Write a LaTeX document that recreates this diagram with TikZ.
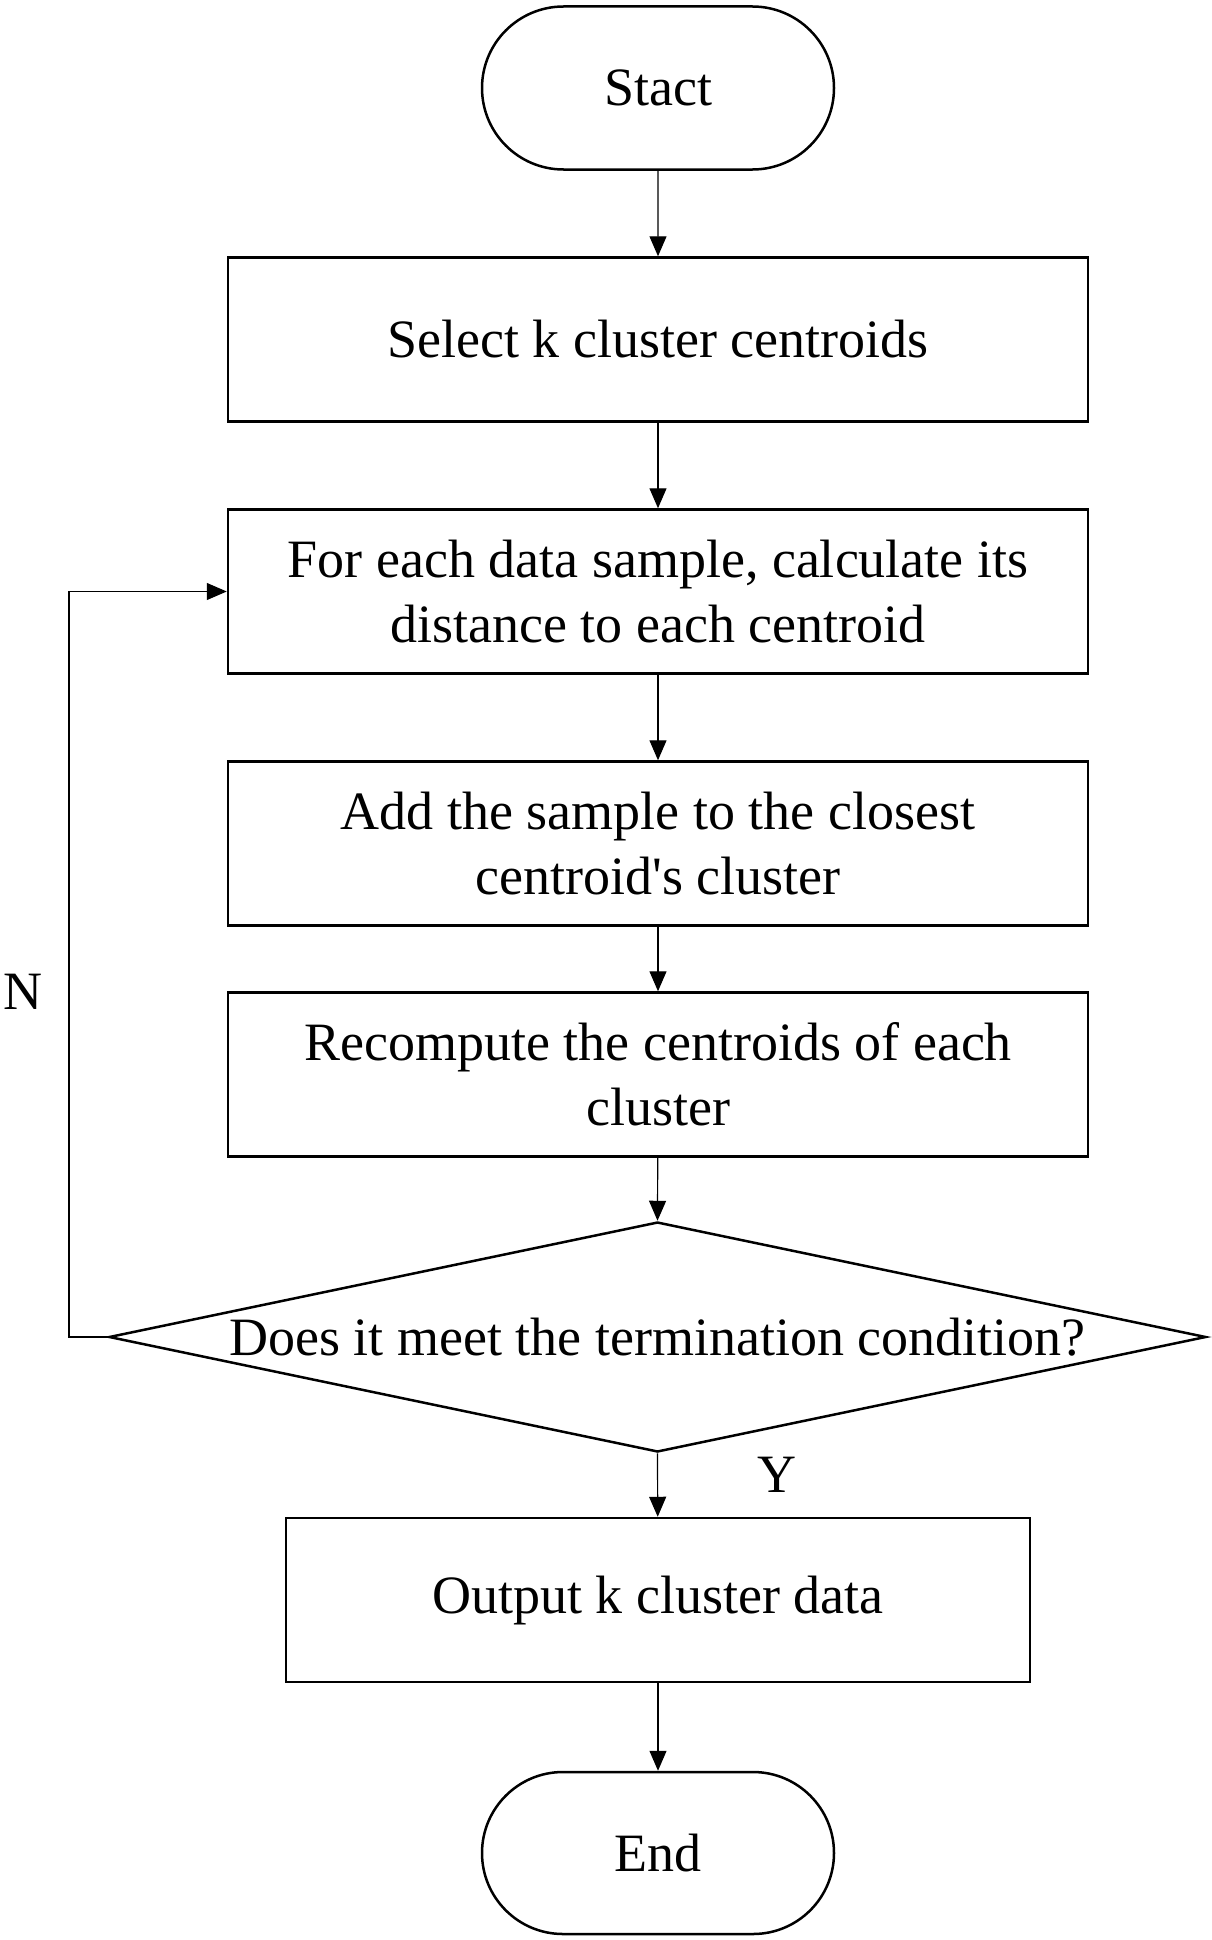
\documentclass[tikz,border=0pt]{standalone}
\usepackage{fontspec}
\setmainfont{Liberation Serif}
\usetikzlibrary{shapes.geometric,shapes.misc,arrows.meta}
\begin{document}
\begin{tikzpicture}[x=1pt,y=-1pt,
  txt/.style={font=\fontsize{54}{65}\selectfont, align=center, inner sep=0pt},
  term/.style={txt, rounded rectangle, draw, line width=2.5pt, minimum width=352pt, minimum height=163pt},
  procbox/.style={txt, rectangle, draw, line width=2.5pt, minimum width=860pt, minimum height=164pt},
  decide/.style={diamond, draw, line width=2.5pt, minimum width=1097pt, minimum height=230pt, inner sep=0pt},
  conn/.style={line width=1.2pt, -{Triangle[length=20pt,width=17pt]}}
]
\useasboundingbox (0,0) rectangle (1211,1940);
\node[term] (start) at (658,88) {Stact};
\node[procbox] (b1) at (658,339.5) {Select k cluster centroids};
\node[procbox] (b2) at (658,591.5) {For each data sample, calculate its\\distance to each centroid};
\node[procbox] (b3) at (658,843.5) {Add the sample to the closest\\centroid\textquotesingle s cluster};
\node[procbox] (b4) at (658,1074.5) {Recompute the centroids of each\\cluster};
\node[decide] (d) at (657.5,1337) {};
\node[txt] (dtext) at (d.center) {Does it meet the termination condition?};
\node[procbox, minimum width=744pt] (b5) at (658,1600) {Output k cluster data};
\node[term, minimum height=162pt] (end) at (658,1853) {End};
\node[txt] (ylab) at (777,1475) {Y};
\node[txt] (nlab) at (23,992) {N};
\coordinate (c1) at (69,1337);
\coordinate (c2) at (69,591.5);
\draw[conn] (start) -- (b1);
\draw[conn] (b1) -- (b2);
\draw[conn] (b2) -- (b3);
\draw[conn] (b3) -- (b4);
\draw[conn] (b4) -- (d.north);
\draw[conn] (d.south) -- (b5);
\draw[conn] (b5) -- (end);
\draw[conn] (d.west) -- (c1) -- (c2) -- (b2.west);
\end{tikzpicture}
\end{document}
